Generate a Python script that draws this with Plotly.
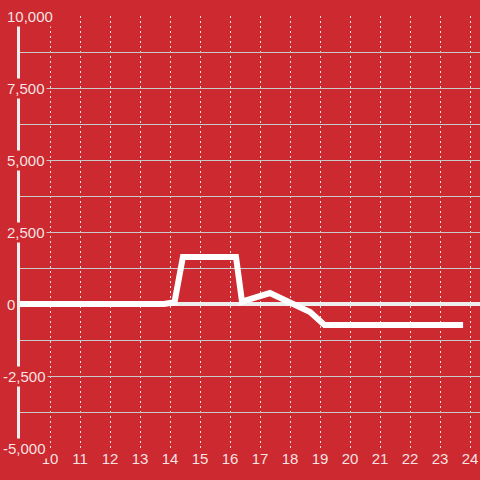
import plotly.graph_objects as go

# data
hours = [9.0, 13.8, 14.15, 14.43, 16.2, 16.4, 17.33, 18.33, 18.67, 19.15, 23.77]
values = [0, 0, 60, 1630, 1630, 80, 380, -100, -280, -730, -730]

x_ticks = list(range(10, 25))
y_label_values = [10000, 7500, 5000, 2500, 0, -2500, -5000]
y_label_text = ["10,000", "7,500", "5,000", "2,500", "0", "-2,500", "-5,000"]

BG = "#cc2a30"
TXT = "rgba(255,255,255,0.88)"
FONT = "Liberation Sans, Arial, sans-serif"
PLOT_LEFT = 20
PLOT_W = 460

fig = go.Figure()
fig.add_trace(go.Scatter(x=hours, y=values, mode="lines",
                         line=dict(color="white", width=6), hoverinfo="skip"))

annotations = []
for v, t in zip(y_label_values, y_label_text):
    left_px = 1 if v < 0 else 5
    annotations.append(dict(x=(left_px - PLOT_LEFT) / PLOT_W, xref="paper", y=v, yref="y",
                            text=t, showarrow=False, xanchor="left", yanchor="middle",
                            bgcolor=BG, borderpad=1,
                            font=dict(family=FONT, size=15, color=TXT)))

fig.update_layout(
    width=480, height=480,
    margin=dict(l=PLOT_LEFT, r=0, t=16, b=32, autoexpand=False),
    paper_bgcolor=BG, plot_bgcolor=BG,
    showlegend=False,
    annotations=annotations,
    xaxis=dict(range=[9, 9 + PLOT_W / 30], tickvals=x_ticks, ticktext=[str(v) for v in x_ticks],
               showgrid=True, gridcolor="rgba(255,255,255,0.85)", griddash="2px,3px", gridwidth=1,
               zeroline=False, showline=False, ticks="", automargin=False,
               tickfont=dict(family=FONT, size=15, color=TXT)),
    yaxis=dict(range=[-5000, 10000], dtick=1250, tick0=0, showticklabels=False,
               showgrid=True, gridcolor="#c9c9c9", gridwidth=1, automargin=False,
               zeroline=True, zerolinecolor="#eeeeee", zerolinewidth=4,
               showline=True, linecolor="#eeeeee", linewidth=3, ticks=""),
)

fig.write_html("out.html", config={"displayModeBar": False},
               post_script="document.body.style.margin='0';document.body.style.background='%s';" % BG)
